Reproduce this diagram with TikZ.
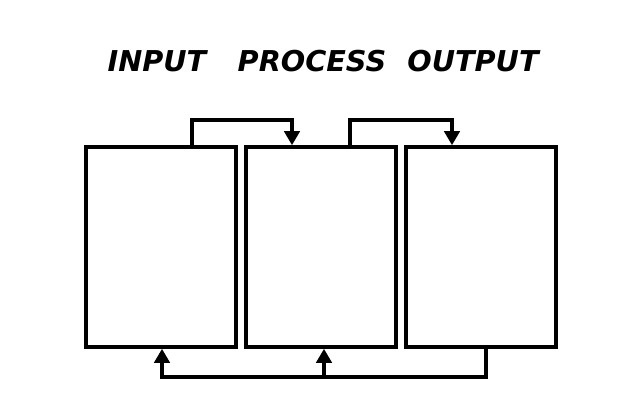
\documentclass[tikz,border=0pt]{standalone}
\usepackage{fontspec}
\newfontfamily\stagefont{DejaVu Sans}
\usetikzlibrary{arrows.meta}
\tikzset{
  stage/.style={draw, line width=3pt, minimum width=4.5cm, minimum height=6cm, inner sep=0pt},
  title/.style={font=\stagefont\bfseries\itshape\fontsize{24.5}{29}\selectfont},
  link/.style={line width=3.2pt, -{Triangle[length=12pt,width=13pt]}}
}
\begin{document}
\begin{tikzpicture}[x=0.03cm,y=-0.03cm]
        \useasboundingbox (0,0) rectangle (642,402);

        \node[title] (tin) at (157,61) {INPUT};
        \node[title] (tproc) at (312,61) {PROCESS};
        \node[title] (tout) at (473,61) {OUTPUT};

        \node[stage] (b1) at (161,247) {};
        \node[stage] (b2) at (321,247) {};
        \node[stage] (b3) at (481,247) {};

        \draw[link] (b1.north -| 192,0) |- (292,120) -- (b2.north -| 292,0);
        \draw[link] (b2.north -| 350,0) |- (452,120) -- (b3.north -| 452,0);
        \draw[link] (b3.south -| 486,0) |- (162,377) -- (b1.south -| 162,0);
        \draw[link] (324,377) -- (b2.south -| 324,0);

    \end{tikzpicture}
\end{document}
